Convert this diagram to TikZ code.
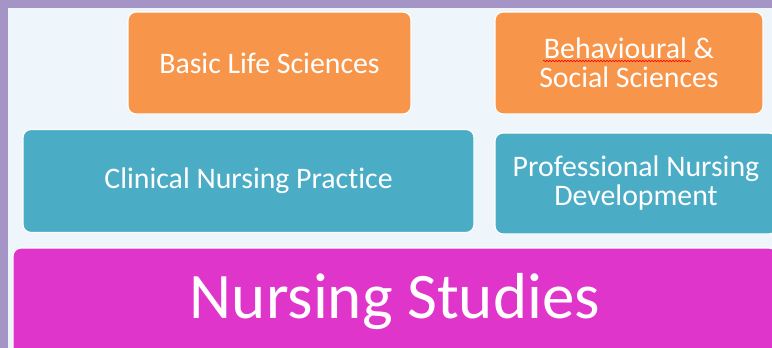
\documentclass[tikz,border=0pt]{standalone}
\usepackage{fontspec}
\setmainfont{Carlito}[Ligatures=NoCommon]
\usetikzlibrary{decorations.pathmorphing}
\definecolor{framecol}{HTML}{A594C6}
\definecolor{bgcol}{HTML}{EEF5FB}
\definecolor{orangecol}{HTML}{F7964A}
\definecolor{tealcol}{HTML}{4BACC6}
\definecolor{magentacol}{HTML}{E035CB}
\tikzset{
  boxnode/.style={draw=white, line width=1.2pt, rounded corners=8pt, text=white, align=center, inner sep=0pt},
  smalltext/.style={font=\fontsize{29.8}{29}\selectfont},
  bigtext/.style={font=\fontsize{65}{70}\selectfont},
  squig/.style={draw=red, line width=0.6pt, decorate, decoration={snake, amplitude=0.8pt, segment length=3pt}}
}
\begin{document}
\begin{tikzpicture}[x=1pt,y=-1pt]
\useasboundingbox (0,0) rectangle (772,348);
\clip (0,0) rectangle (772,348);
\fill[framecol] (0,0) rectangle (772,348);
\fill[bgcol] (8,8) rectangle (772,348);
\node[boxnode, smalltext, fill=orangecol, minimum width=283pt, minimum height=102pt] (bls) at (269.5,63) {Basic Life Sciences};
\node[boxnode, smalltext, fill=orangecol, minimum width=268pt, minimum height=102pt] (bss) at (629,63) {Behavioural \&\\Social Sciences};
\node[boxnode, smalltext, fill=tealcol, minimum width=451pt, minimum height=103pt] (cnp) at (248.5,181) {Clinical Nursing Practice};
\node[boxnode, smalltext, fill=tealcol, minimum width=282pt, minimum height=101pt] (pnd) at (636,183.5) {Professional Nursing\\Development};
\node[boxnode, bigtext, fill=magentacol, minimum width=764pt, minimum height=110pt] (ns) at (395,303) {};
\node[text=white, bigtext] (nst) at (395,302) {Nursing Studies};
\coordinate (sqa) at (543,61);
\coordinate (sqb) at (691,61);
\draw[squig] (sqa) -- (sqb);
\end{tikzpicture}
\end{document}
